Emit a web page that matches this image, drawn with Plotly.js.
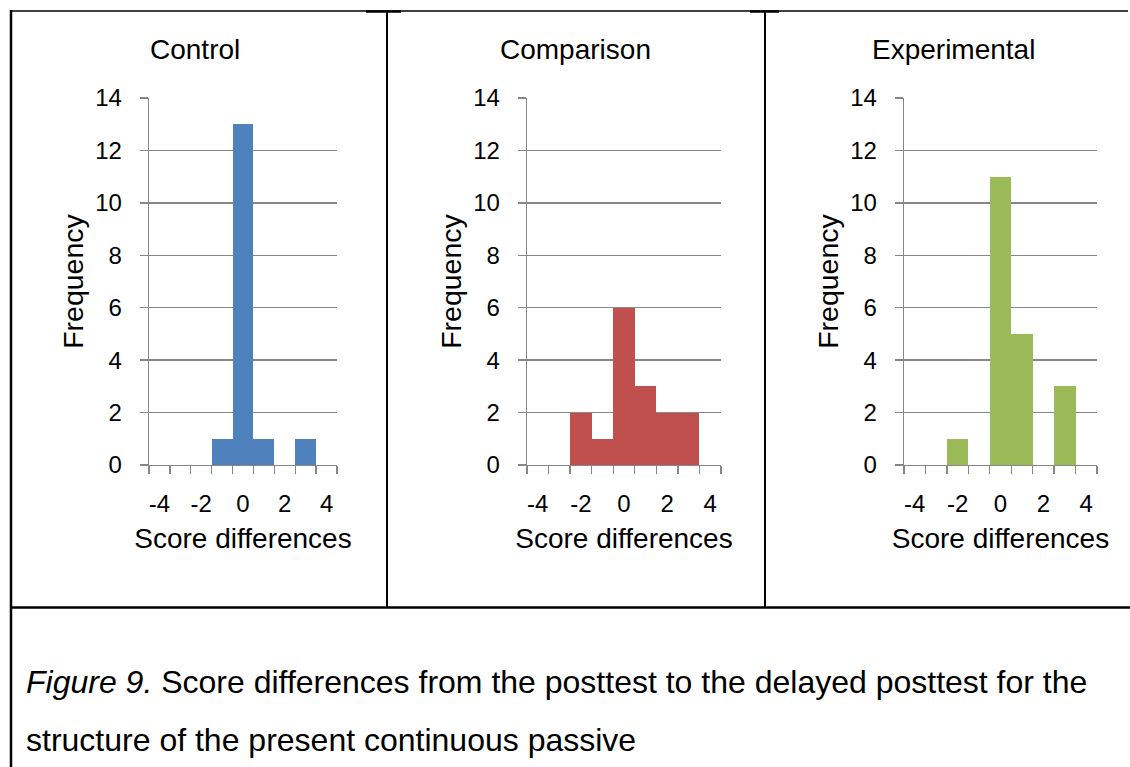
<!DOCTYPE html>
<html>
<head>
<meta charset="utf-8">
<script src="https://cdn.plot.ly/plotly-3.0.1.min.js"></script>
<style>html,body{margin:0;padding:0;background:#fff;}#chart{width:1130px;height:767px;}</style>
</head>
<body>
<div id="chart"></div>
<script>
// ---- data ----
const scoreBins = [-4, -3, -2, -1, 0, 1, 2, 3, 4];
const controlFreq = [0, 0, 0, 1, 13, 1, 0, 1, 0];
const comparisonFreq = [0, 0, 2, 1, 6, 3, 2, 2, 0];
const experimentalFreq = [0, 0, 1, 0, 11, 5, 0, 3, 0];
const panelTitles = ["Control", "Comparison", "Experimental"];
const xTickVals = [-4, -2, 0, 2, 4];
const xTickText = ["-4", "-2", "0", "2", "4"];
const yTickVals = [0, 2, 4, 6, 8, 10, 12, 14];
const xTitle = "Score differences";
const yTitle = "Frequency";
const captionItalic = "Figure 9.";
const captionLine1 = " Score differences from the posttest to the delayed posttest for the";
const captionLine2 = "structure of the present continuous passive";

// ---- geometry / style ----
const W = 1130, H = 767;
const px = v => v / W;
const py = v => 1 - v / H;
const FONT = "Liberation Sans, Arial, sans-serif";
const GRID = "#878787";
const colors = ["#4F81BD", "#C0504D", "#9BBB59"];
const series = [controlFreq, comparisonFreq, experimentalFreq];
const xDomains = [[149, 337], [527, 721], [904, 1097]];
const titleCenters = [195, 575, 953];
const yTop = 98, yBottom = 465;

const boundaries = scoreBins.map(v => v - 0.5).concat([scoreBins[scoreBins.length - 1] + 0.5]);

const data = series.map((vals, i) => ({
  type: "bar",
  x: scoreBins,
  y: vals,
  width: 1,
  marker: {color: colors[i], line: {width: 0}},
  xaxis: i === 0 ? "x" : "x" + (i + 1),
  yaxis: i === 0 ? "y" : "y" + (i + 1),
  hoverinfo: "x+y",
  showlegend: false
}));

const layout = {
  width: W, height: H,
  margin: {l: 0, r: 0, t: 0, b: 0},
  paper_bgcolor: "#fff",
  plot_bgcolor: "rgba(0,0,0,0)",
  bargap: 0,
  font: {family: FONT, color: "#000"},
  shapes: [],
  annotations: []
};

for (let i = 0; i < 3; i++) {
  const s = i === 0 ? "" : String(i + 1);
  layout["xaxis" + s] = {
    domain: [px(xDomains[i][0]), px(xDomains[i][1])],
    anchor: "y" + s,
    range: [boundaries[0], boundaries[boundaries.length - 1]],
    tickmode: "array",
    tickvals: xTickVals,
    ticktext: xTickText,
    ticks: "",
    ticklabelstandoff: 17,
    tickfont: {size: 24, family: FONT, color: "#000"},
    showgrid: false,
    zeroline: false,
    showline: true,
    linecolor: GRID,
    linewidth: 1.3,
    minor: {tickmode: "array", tickvals: boundaries, ticks: "outside", ticklen: 8, tickwidth: 1.3, tickcolor: GRID, showgrid: false},
    title: {text: xTitle, font: {size: 28, family: FONT, color: "#000"}, standoff: 12},
    fixedrange: true
  };
  layout["yaxis" + s] = {
    domain: [py(yBottom), py(yTop)],
    anchor: "x" + s,
    range: [0, 14],
    tickmode: "array",
    tickvals: yTickVals,
    ticks: "outside",
    ticklen: 8,
    tickwidth: 1.3,
    tickcolor: GRID,
    ticklabelstandoff: 13,
    tickfont: {size: 24, family: FONT, color: "#000"},
    showgrid: true,
    gridcolor: GRID,
    gridwidth: 1.3,
    zeroline: false,
    showline: true,
    linecolor: GRID,
    linewidth: 1.3,
    title: {text: yTitle, font: {size: 28.5, family: FONT, color: "#000"}, standoff: 3},
    fixedrange: true
  };
  layout.annotations.push({
    text: panelTitles[i], xref: "paper", yref: "paper",
    x: px(titleCenters[i]), y: py(49), xanchor: "center", yanchor: "middle",
    showarrow: false, font: {size: 28, family: FONT, color: "#000"}
  });
}

// caption
layout.annotations.push({
  text: "<i>" + captionItalic + "</i>" + captionLine1, xref: "paper", yref: "paper",
  x: px(24), y: py(682), xanchor: "left", yanchor: "middle",
  showarrow: false, font: {size: 32, family: FONT, color: "#000"}
});
layout.annotations.push({
  text: captionLine2, xref: "paper", yref: "paper",
  x: px(24), y: py(740), xanchor: "left", yanchor: "middle",
  showarrow: false, font: {size: 32, family: FONT, color: "#000"}
});

// table borders
function line(x0, y0, x1, y1, w) {
  layout.shapes.push({type: "line", xref: "paper", yref: "paper",
    x0: px(x0), y0: py(y0), x1: px(x1), y1: py(y1), line: {color: "#000", width: w}});
}
line(10, 11, 1128, 11, 1.5);
line(366, 11.5, 401, 11.5, 2.5);
line(750, 11.5, 779, 11.5, 2.5);
line(11, 10, 11, 767, 2.5);
line(387, 11, 387, 607, 2);
line(765, 11, 765, 607, 2);
line(10, 607.5, 1130, 607.5, 2.5);

Plotly.newPlot("chart", data, layout, {displayModeBar: false, staticPlot: true});
</script>
</body>
</html>
